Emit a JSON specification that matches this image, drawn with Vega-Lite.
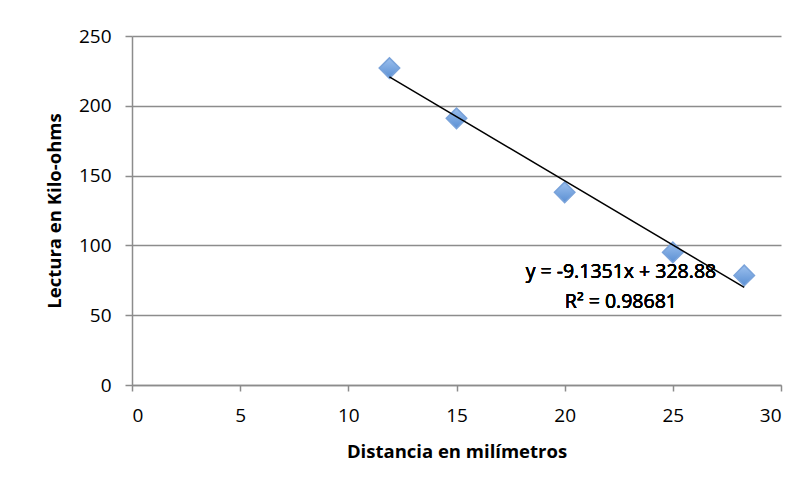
{
  "$schema": "https://vega.github.io/schema/vega-lite/v6.json",
  "width": 649,
  "height": 349,
  "autosize": {"type": "none"},
  "padding": {"left": 132, "top": 36, "right": 28, "bottom": 106},
  "background": "white",
  "config": {
    "view": {"stroke": null},
    "font": "Open Sans",
    "axis": {
      "labelFont": "Open Sans",
      "titleFont": "Open Sans",
      "labelColor": "#000000",
      "titleColor": "#000000",
      "labelFontSize": 19,
      "titleFontSize": 18.5,
      "titleFontWeight": "bold",
      "domainColor": "#8c8c8c",
      "tickColor": "#8c8c8c",
      "gridColor": "#8c8c8c",
      "domainWidth": 1.5,
      "tickWidth": 1.5,
      "gridWidth": 1.5
    },
    "text": {"font": "Open Sans", "fontWeight": 400}
  },
  "data": {
    "values": [
      {"dist": 11.9, "lectura": 227},
      {"dist": 15, "lectura": 191},
      {"dist": 20, "lectura": 138},
      {"dist": 25, "lectura": 95},
      {"dist": 28.3, "lectura": 78.5}
    ]
  },
  "layer": [
    {
      "mark": {"type": "point", "shape": "diamond", "filled": true, "size": 420, "opacity": 1,
        "color": {"gradient": "linear", "x1": 0, "y1": 0, "x2": 0, "y2": 1,
          "stops": [{"offset": 0, "color": "#9cc0ee"}, {"offset": 1, "color": "#5a8fd3"}]},
        "stroke": "#7aa3da", "strokeWidth": 1.5},
      "encoding": {
        "x": {"field": "dist", "type": "quantitative",
          "scale": {"domain": [0, 30], "nice": false, "zero": true},
          "axis": {"values": [0, 5, 10, 15, 20, 25, 30], "grid": false, "title": "Distancia en milímetros",
            "labelFontSize": 19, "titleFontSize": 18.5, "titleFontWeight": "bold",
            "tickSize": 6, "labelPadding": 15, "titlePadding": 17}},
        "y": {"field": "lectura", "type": "quantitative",
          "scale": {"domain": [0, 250], "nice": false},
          "axis": {"values": [0, 50, 100, 150, 200, 250], "grid": true, "title": "Lectura en Kilo-ohms",
            "labelFontSize": 19, "titleFontSize": 18.5, "titleFontWeight": "bold",
            "tickSize": 7, "labelPadding": 14, "titlePadding": 14}}
      }
    },
    {
      "transform": [{"regression": "lectura", "on": "dist", "method": "linear"}],
      "mark": {"type": "line", "color": "#000000", "strokeWidth": 1.5},
      "encoding": {
        "x": {"field": "dist", "type": "quantitative"},
        "y": {"field": "lectura", "type": "quantitative"}
      }
    },
    {
      "mark": {"type": "text", "fontSize": 19.5, "font": "Open Sans", "fontWeight": 400, "color": "#000000", "align": "center", "baseline": "middle"},
      "encoding": {
        "x": {"datum": 22.6, "type": "quantitative"},
        "y": {"datum": 81, "type": "quantitative"},
        "text": {"value": "y = -9.1351x + 328.88"}
      }
    },
    {
      "mark": {"type": "text", "fontSize": 19.5, "font": "Open Sans", "fontWeight": 400, "color": "#000000", "align": "center", "baseline": "middle"},
      "encoding": {
        "x": {"datum": 22.6, "type": "quantitative"},
        "y": {"datum": 59.5, "type": "quantitative"},
        "text": {"value": "R² = 0.98681"}
      }
    }
  ]
}
